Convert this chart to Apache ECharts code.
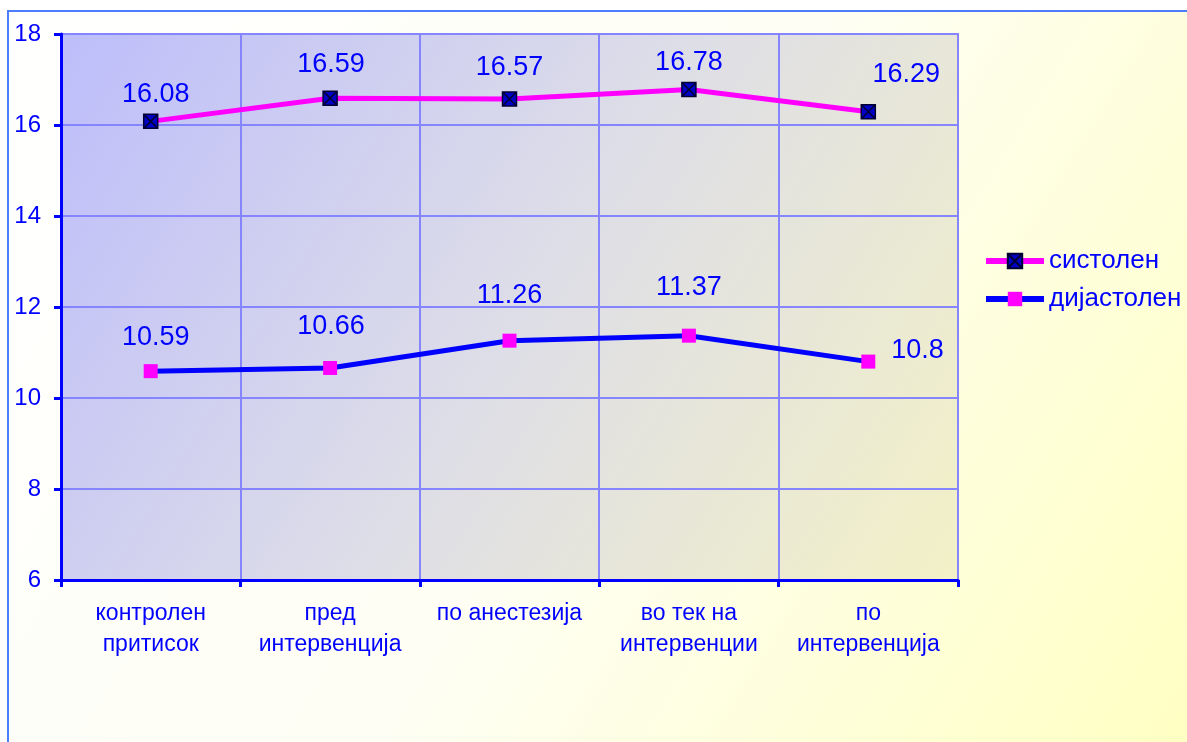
<!DOCTYPE html>
<html>
<head>
<meta charset="utf-8">
<script src="https://cdn.jsdelivr.net/npm/echarts@6/dist/echarts.min.js"></script>
<style>
  html, body { margin: 0; padding: 0; background: #fff; }
  #main { width: 1187px; height: 742px; }
</style>
</head>
<body>
<div id="main"></div>
<script>
// категории и вредности
var categories = ['контролен\nпритисок', 'пред\nинтервенција', 'по анестезија', 'во тек на\nинтервенции', 'по\nинтервенција'];
var sistolen = [16.08, 16.59, 16.57, 16.78, 16.29];
var dijastolen = [10.59, 10.66, 11.26, 11.37, 10.8];
var yTicks = { min: 6, max: 18, interval: 2 };

// поместување на етикетите (само изглед)
var sisOffsets = [[5, -6], [1, -12], [0, -10], [0, -6], [38, -16]];
var dijOffsets = [[5, -13], [1, -21], [0, -25], [0, -28], [0, -11]];

var chart = echarts.init(document.getElementById('main'));

var blue = '#0000ff';
var font = 'Liberation Sans, Arial, sans-serif';
// квадрат со X
var boxX = 'path://M0,0L10,0L10,10L0,10Z M0,0L10,10 M10,0L0,10';

function items(values, offsets, lastRight) {
  return values.map(function (v, i) {
    var lab = { offset: offsets[i] };
    if (lastRight && i === values.length - 1) {
      lab.position = 'right';
      lab.distance = 16;
    }
    return { value: v, label: lab };
  });
}

chart.setOption({
  backgroundColor: '#ffffff',
  animation: false,
  textStyle: { fontFamily: font },
  graphic: [{
    type: 'rect',
    z: -10,
    shape: { x: 8, y: 11, width: 1186, height: 736 },
    style: {
      fill: new echarts.graphic.LinearGradient(0, 0, 1, 1, [
        { offset: 0, color: '#ffffff' },
        { offset: 0.5, color: '#fefef4' },
        { offset: 1, color: '#ffffc2' }
      ]),
      stroke: '#4d7dff',
      lineWidth: 2
    }
  }],
  grid: {
    left: 61, top: 34, right: 229, bottom: 162,
    show: true,
    backgroundColor: new echarts.graphic.LinearGradient(0, 0, 1, 1, [
      { offset: 0, color: '#bdbdfb' },
      { offset: 0.5, color: '#dddde8' },
      { offset: 1, color: '#f3f1c6' }
    ]),
    borderColor: '#8585ff',
    borderWidth: 2
  },
  legend: {
    orient: 'vertical',
    left: 978,
    top: 243,
    itemWidth: 58,
    itemHeight: 18,
    itemGap: 12,
    itemTextGap: 4,
    lineStyle: { width: 6 },
    textStyle: { color: blue, fontSize: 26, fontFamily: font },
    data: ['систолен', 'дијастолен']
  },
  xAxis: {
    type: 'category',
    data: categories,
    boundaryGap: true,
    axisLine: { lineStyle: { color: blue, width: 3 } },
    axisTick: { show: true, length: 7, lineStyle: { color: blue, width: 3 } },
    splitLine: { show: true, lineStyle: { color: '#8585ff', width: 2 } },
    axisLabel: {
      color: blue, fontSize: 23, lineHeight: 31, margin: 18,
      fontFamily: font, interval: 0
    }
  },
  yAxis: {
    type: 'value',
    min: yTicks.min, max: yTicks.max, interval: yTicks.interval,
    axisLine: { show: true, lineStyle: { color: blue, width: 3 } },
    axisTick: { show: true, length: 7, lineStyle: { color: blue, width: 3 } },
    splitLine: { show: true, lineStyle: { color: '#8585ff', width: 2 } },
    axisLabel: { color: blue, fontSize: 24, margin: 20, fontFamily: font }
  },
  series: [{
    name: 'систолен',
    type: 'line',
    data: items(sistolen, sisOffsets, false),
    symbol: boxX,
    symbolSize: 14,
    lineStyle: { color: '#ff00ff', width: 5 },
    itemStyle: { color: '#0000c8', borderColor: '#000033', borderWidth: 1.5 },
    label: {
      show: true, position: 'top', distance: 0,
      color: blue, fontSize: 27, fontFamily: font
    },
    z: 3
  }, {
    name: 'дијастолен',
    type: 'line',
    data: items(dijastolen, dijOffsets, true),
    symbol: 'rect',
    symbolSize: 14,
    lineStyle: { color: blue, width: 5 },
    itemStyle: { color: '#ff00ff', borderColor: '#ff00ff', borderWidth: 0 },
    label: {
      show: true, position: 'top', distance: 0,
      color: blue, fontSize: 27, fontFamily: font
    },
    z: 3
  }]
});
</script>
</body>
</html>
